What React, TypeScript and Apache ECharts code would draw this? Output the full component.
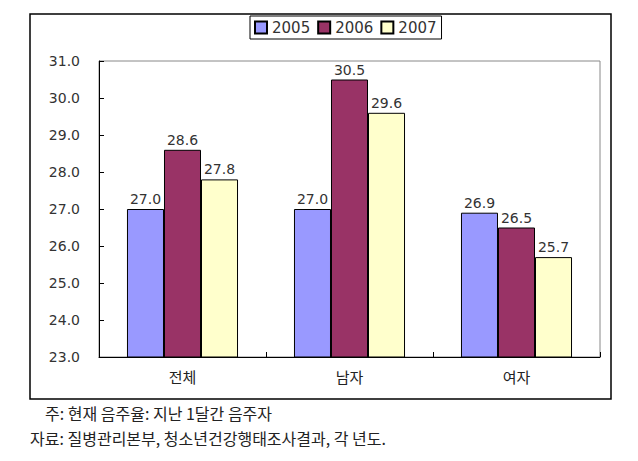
import React, { useEffect, useRef } from "react";
import * as echarts from "echarts";

const categories = ["전체", "남자", "여자"];
const years = ["2005", "2006", "2007"];
const values2005 = [27.0, 27.0, 26.9];
const values2006 = [28.6, 30.5, 26.5];
const values2007 = [27.8, 29.6, 25.7];
const colors = ["#9999FF", "#993366", "#FFFFCC"];
const yMin = 23;
const yMax = 31;
const yInterval = 1;
const note1 = "주: 현재 음주율: 지난 1달간 음주자";
const note2 = "자료: 질병관리본부, 청소년건강행태조사결과, 각 년도.";

const numFont = "'DejaVu Sans', sans-serif";
const krFont = "'Noto Sans CJK KR', sans-serif";

export default function App() {
  const ref = useRef<HTMLDivElement>(null);
  useEffect(() => {
    if (!ref.current) return;
    const chart = echarts.init(ref.current, undefined, { renderer: "svg" });
    const seriesData = [values2005, values2006, values2007];
    chart.setOption({
      animation: false,
      backgroundColor: "#ffffff",
      grid: {
        left: 99,
        top: 61,
        right: 38,
        bottom: 104,
        show: true,
        borderColor: "#888888",
        borderWidth: 1,
        containLabel: false,
      },
      legend: {
        data: years.map((y) => ({ name: y, icon: "rect" })),
        left: 250,
        top: 16,
        orient: "horizontal",
        itemWidth: 12,
        itemHeight: 12,
        itemGap: 7,
        padding: [4, 5, 4, 4],
        borderColor: "#000",
        borderWidth: 1,
        textStyle: { fontFamily: numFont, fontSize: 15, color: "#333" },
      },
      xAxis: {
        type: "category",
        data: categories,
        axisLine: { show: true, lineStyle: { color: "#000", width: 1 } },
        axisTick: { show: true, inside: true, length: 5, lineStyle: { color: "#000" } },
        axisLabel: { fontFamily: krFont, fontSize: 15, color: "#222", margin: 12 },
        splitLine: { show: false },
      },
      yAxis: {
        type: "value",
        min: yMin,
        max: yMax,
        interval: yInterval,
        axisLine: { show: true, lineStyle: { color: "#000", width: 1 } },
        axisTick: { show: true, inside: true, length: 5, lineStyle: { color: "#000" } },
        axisLabel: {
          fontFamily: numFont,
          fontSize: 14,
          color: "#333",
          margin: 19,
          formatter: (v: number) => v.toFixed(1),
        },
        splitLine: { show: false },
      },
      series: years.map((y, i) => ({
        name: y,
        type: "bar",
        data: seriesData[i],
        barGap: "0%",
        barCategoryGap: "33.5%",
        itemStyle: { color: colors[i], borderColor: "#000", borderWidth: 1 },
        label: {
          show: true,
          position: "top",
          distance: 3,
          fontFamily: numFont,
          fontSize: 14,
          color: "#333",
          formatter: (p: any) => Number(p.value).toFixed(1),
        },
      })),
      graphic: [
        {
          type: "rect",
          shape: { x: 30, y: 14, width: 581, height: 385 },
          style: { fill: "none", stroke: "#000", lineWidth: 1.5 },
          silent: true,
        },
        {
          type: "text",
          left: 45,
          top: 405,
          style: { text: note1, fontFamily: krFont, fontSize: 16, fill: "#222" },
        },
        {
          type: "text",
          left: 30,
          top: 430,
          style: { text: note2, fontFamily: krFont, fontSize: 16, fill: "#222" },
        },
      ],
    });
    return () => chart.dispose();
  }, []);
  return (
    <div
      ref={ref}
      style={{ position: "fixed", left: 0, top: 0, width: 638, height: 461, background: "#fff" }}
    />
  );
}
